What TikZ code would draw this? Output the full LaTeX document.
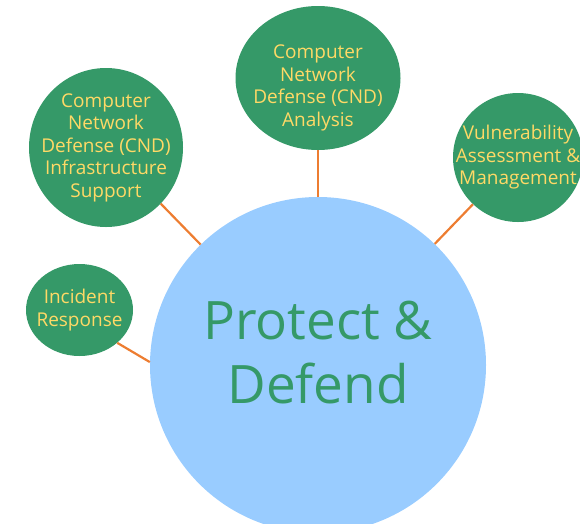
\documentclass[tikz,border=0pt]{standalone}
\usepackage{fontspec}
\setmainfont{Open Sans}
\usetikzlibrary{shapes.geometric}

\definecolor{hubblue}{RGB}{153,204,255}
\definecolor{topicgreen}{RGB}{53,153,104}
\definecolor{topicyellow}{RGB}{255,217,102}
\definecolor{linkorange}{RGB}{237,125,49}

\begin{document}
\begin{tikzpicture}[x=1pt,y=-1pt,
    hub/.style={circle, inner sep=0pt, fill=hubblue, text=topicgreen, align=center,
        font=\fontsize{53}{64}\selectfont},
    topic/.style={ellipse, inner sep=-30pt, fill=topicgreen, text=topicyellow, align=center,
        font=\fontsize{19}{22.5}\selectfont},
    link/.style={draw=linkorange, line width=2.2pt},
    ]
    \useasboundingbox (0,0) rectangle (580,523);

    \node[hub, minimum size=336pt, text depth=26pt] (pd) at (318,365) {Protect \&\\Defend};

    \node[topic, minimum width=165pt, minimum height=144pt, text height=101pt] (cnda) at (318,78)
        {Computer\\Network\\Defense (CND)\\Analysis};
    \node[topic, minimum width=154pt, minimum height=159pt] (cndis) at (106,147.5)
        {Computer\\Network\\Defense (CND)\\Infrastructure\\Support};
    \node[topic, minimum width=130pt, minimum height=129pt] (vam) at (518,157.5)
        {Vulnerability\\Assessment \&\\Management};
    \node[topic, minimum width=107pt, minimum height=92pt] (ir) at (79.5,310)
        {Incident\\Response};

    \foreach \t in {cnda,cndis,vam}
    \draw [link] (pd) -- (\t);
    \draw [link] (ir.-41) -- (pd.179);

\end{tikzpicture}
\end{document}
